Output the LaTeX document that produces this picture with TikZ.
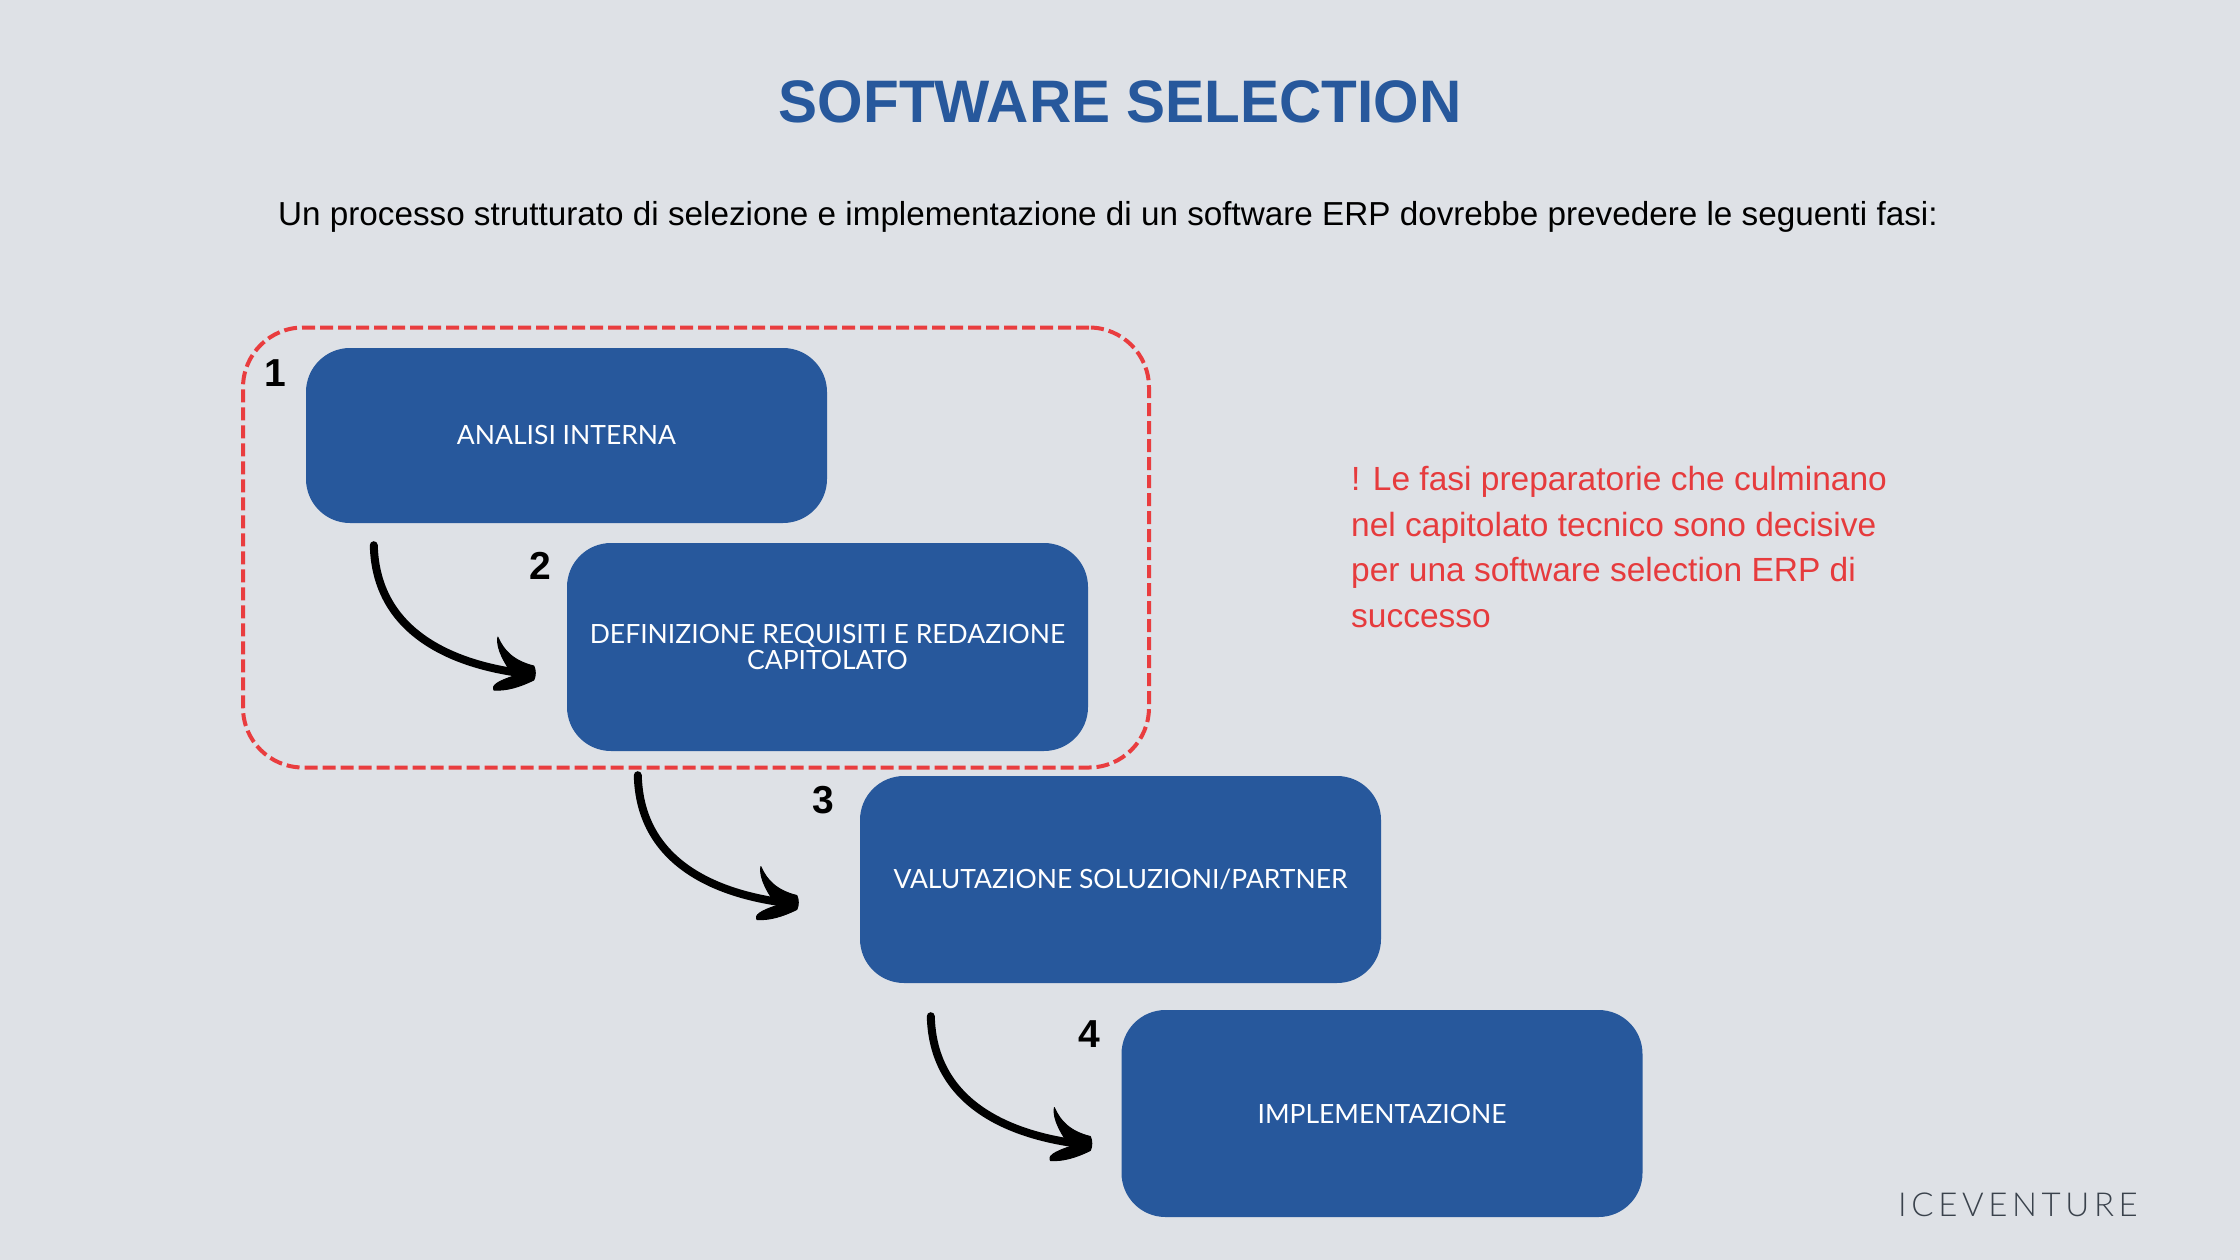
\documentclass[tikz,border=0pt]{standalone}
\usepackage{fontspec}
\setmainfont{Lato}
\newfontfamily\headfont{Liberation Sans}
\newfontfamily\titlefont[FakeStretch=0.975]{Liberation Sans}
\newfontfamily\logofont[UprightFont={* Light},LetterSpace=14]{Lato}
\usetikzlibrary{calc}
\definecolor{bgc}{HTML}{DEE1E6}
\definecolor{bluec}{HTML}{27589C}
\definecolor{redc}{HTML}{E93D3F}
\definecolor{redt}{HTML}{E63B3D}
\definecolor{logoc}{HTML}{3A424C}
\tikzset{
  stepbox/.style={rectangle,rounded corners=44pt,fill=bluec,text=white,inner sep=0pt,minimum width=521pt,align=center,font=\fontsize{26.5}{26}\selectfont},
  numlabel/.style={font=\headfont\bfseries\fontsize{39}{40}\selectfont,text=black,inner sep=0pt},
  curvearrow/.style={line width=8pt,black,line cap=round},
  headshape/.style={fill=black,draw=black,line width=1pt,line join=round}
}
\newcommand{\flowarrow}[2]{%
  \draw[curvearrow] (#1) .. controls ($(#1)+(2,85)$) and ($(#2)+(-85,-8)$) .. ($(#2)+(-6,1)$);
  \path[headshape] ($(#2)+(-36,-36)$) .. controls ($(#2)+(-30,-22)$) and ($(#2)+(-20,-12)$) .. ($(#2)+(0,-7)$)
     .. controls ($(#2)+(2,-3)$) and ($(#2)+(2,3)$) .. ($(#2)+(0,7)$)
     .. controls ($(#2)+(-14,14)$) and ($(#2)+(-28,18)$) .. ($(#2)+(-40,17)$)
     .. controls ($(#2)+(-42,13)$) and ($(#2)+(-38,9)$) .. ($(#2)+(-20,3)$)
     .. controls ($(#2)+(-28,-8)$) and ($(#2)+(-38,-24)$) .. cycle;
}
\begin{document}
\begin{tikzpicture}[x=1pt,y=-1pt]
\useasboundingbox (0,0) rectangle (2240,1260);
\fill[bgc] (0,0) rectangle (2240,1260);
\node[font=\titlefont\bfseries\fontsize{60}{64}\selectfont,text=bluec,inner sep=0pt] (title) at (1120,102) {SOFTWARE SELECTION};
\node[font=\headfont\fontsize{33.25}{38}\selectfont,text=black,inner sep=0pt] (subtitle) at (1108,217) {Un processo strutturato di selezione e implementazione di un software ERP dovrebbe prevedere le seguenti fasi:};
\node[draw=redc,line width=4pt,dashed,dash pattern=on 13pt off 5pt,rounded corners=60pt,minimum width=906pt,minimum height=440pt,inner sep=0pt] (group) at (696,547.5) {};
\node[stepbox,minimum height=175pt] (box1) at (566.5,435.5) {ANALISI INTERNA};
\node[stepbox,minimum height=208pt] (box2) at (827.5,647) {DEFINIZIONE REQUISITI E REDAZIONE\\CAPITOLATO};
\node[stepbox,minimum height=207pt] (box3) at (1120.5,879.5) {VALUTAZIONE SOLUZIONI/PARTNER};
\node[stepbox,minimum height=207pt] (box4) at (1382,1113.5) {IMPLEMENTAZIONE};
\node[numlabel] (n1) at (275,373) {1};
\node[numlabel] (n2) at (540,566) {2};
\node[numlabel] (n3) at (823,800) {3};
\node[numlabel] (n4) at (1089,1034) {4};
\coordinate (a1s) at ($(box1.south west)+(68,22)$);
\coordinate (a1e) at ($(box2.west)+(-33,26)$);
\coordinate (a2s) at ($(box2.south west)+(71,24)$);
\coordinate (a2e) at ($(box3.west)+(-63,23)$);
\coordinate (a3s) at ($(box3.south west)+(71,33)$);
\coordinate (a3e) at ($(box4.west)+(-31,30)$);
\flowarrow{a1s}{a1e}
\flowarrow{a2s}{a2e}
\flowarrow{a3s}{a3e}
\node[font=\headfont\fontsize{33.5}{45.7}\selectfont,text=redt,anchor=north west,align=left,inner sep=0pt] (note) at (1351,466) {! Le fasi preparatorie che culminano\\nel capitolato tecnico sono decisive\\per una software selection ERP di\\successo};
\node[font=\logofont\fontsize{33}{36}\selectfont,text=logoc,inner sep=0pt] (logo) at (2018,1205) {ICEVENTURE};
\end{tikzpicture}
\end{document}
